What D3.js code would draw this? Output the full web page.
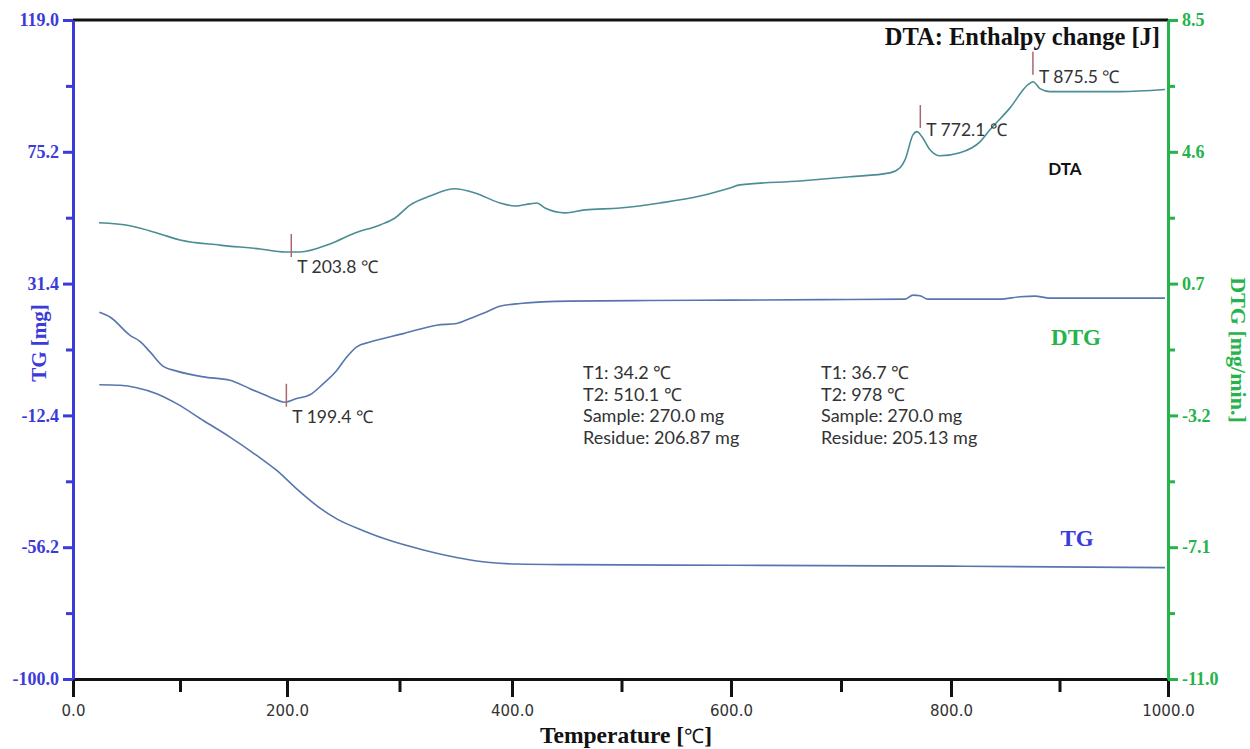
<!DOCTYPE html>
<html>
<head>
<meta charset="utf-8">
<script src="https://cdn.jsdelivr.net/npm/d3@7"></script>
<style>
  body { margin: 0; background: #fff; }
  svg { display: block; }
</style>
</head>
<body>
<div id="chart"></div>
<script>

// temperature [C] vs DTA signal (drawn on the TG value scale)
var dtaPoints = [
  [24.3, 51.6], [53.3, 50.6], [81.3, 47.9], [100, 45.9], [137.4, 44.2], [174.8, 42.9],
  [198.1, 41.9], [211.6, 41.9], [238.2, 44.6], [260.4, 48.2], [282.7, 50.9], [296, 53.2],
  [309.3, 57.5], [327.1, 60.5], [349.3, 62.9], [367.1, 61.5], [389.3, 58.2], [402.7, 57.2],
  [416.4, 57.9], [422.8, 58.2], [430.1, 56.5], [448.4, 54.9], [466.7, 55.9], [498.6, 56.5],
  [535.2, 58.2], [571.7, 60.5], [599.1, 63.2], [608.2, 64.2], [662.7, 65.5], [708.2, 66.9],
  [744.5, 68.2], [753.6, 69.9], [758.2, 72.5], [765.5, 80.9], [769.1, 81.9], [773.6, 80.2],
  [780.9, 75.9], [790, 73.9], [808.3, 74.9], [826.7, 78.5], [835.9, 82.5], [854.4, 89.8],
  [871, 97.5], [875.6, 98.5], [882, 96.2], [891.2, 95.2], [918.9, 95.2], [955.8, 95.2],
  [997.2, 95.9]
];

// temperature [C] vs DTG [mg/min]
var dtgPoints = [
  [24.6, -0.15], [34.6, -0.29], [53.3, -0.83], [62.6, -1.01], [72, -1.32], [84.4, -1.75],
  [97, -1.89], [121.8, -2.06], [146.7, -2.16], [165.4, -2.41], [184.1, -2.66], [198.1, -2.81],
  [208.6, -2.70], [220.4, -2.59], [232.3, -2.26], [244.2, -1.87], [253.1, -1.47], [262, -1.17],
  [273.8, -1.03], [303.4, -0.78], [333.1, -0.53], [350.8, -0.48], [362.7, -0.33], [374.5, -0.18],
  [389.3, 0.03], [407.3, 0.11], [453, 0.18], [526, 0.20], [600, 0.21], [708, 0.23],
  [758, 0.24], [765.5, 0.36], [771.8, 0.34], [779, 0.24], [845, 0.24], [863.6, 0.31],
  [877.4, 0.33], [891.2, 0.27], [937.3, 0.27], [997.2, 0.27]
];

// temperature [C] vs TG [mg]
var tgPoints = [
  [24.6, -2.2], [43.9, -2.4], [59.5, -3.2], [78.2, -5.2], [96.9, -8.5], [121.8, -14.1],
  [146.7, -19.6], [171.7, -25.7], [190.4, -30.7], [208.6, -36.8], [226.4, -42.4], [244.2, -46.8],
  [267.8, -50.7], [291.6, -54.0], [321.2, -57.1], [350.8, -59.6], [380.4, -61.3], [404.3, -61.8],
  [453, -62.0], [600, -62.2], [800, -62.5], [997.2, -63.0]
];

var xTicks = [0, 200, 400, 600, 800, 1000];
var xMinorTicks = [100, 300, 500, 700, 900];
var tgTicks = [119.0, 75.2, 31.4, -12.4, -56.2, -100.0];
var dtgTicks = [8.5, 4.6, 0.7, -3.2, -7.1, -11.0];

// peak markers: temperature, which curve, peak or valley
var peakTemps = [203.8, 199.4, 772.1, 875.5];
var peakCurves = ["dta", "dtg", "dta", "dta"];
var peakKinds = ["min", "min", "max", "max"];

var infoLeft = ["T1: 34.2 \u2103", "T2: 510.1 \u2103", "Sample: 270.0 mg", "Residue: 206.87 mg"];
var infoRight = ["T1: 36.7 \u2103", "T2: 978 \u2103", "Sample: 270.0 mg", "Residue: 205.13 mg"];

var W = 1250, H = 749;
var plotLeft = 73, plotRight = 1168, plotTop = 20, plotBottom = 679;

var blue = "#3b3bdc";
var green = "#25b34b";
var dtaColor = "#4a8d95";
var tgColor = "#5876ae";
var markColor = "#a9666f";
var serif = "'Liberation Serif', 'Times New Roman', serif";
var sans = "Lato, 'Open Sans', sans-serif";

// plain hyphen instead of d3's unicode minus, like the original
var fmt1 = function (d) { return d.toFixed(1); };

var svg = d3.select("#chart").append("svg")
    .attr("width", W)
    .attr("height", H);

// the scanned original is slightly uneven, so the x scale is piecewise
var x = d3.scaleLinear()
    .domain(xTicks)
    .range([plotLeft, 287, 512, 731, 951, plotRight]);
var yTG = d3.scaleLinear().domain([-100, 119]).range([plotBottom, plotTop]);
var yDTG = d3.scaleLinear().domain([-11, 8.5]).range([plotBottom, plotTop]);

var curves = {
    dta: { points: dtaPoints, y: yTG },
    dtg: { points: dtgPoints, y: yDTG },
    tg: { points: tgPoints, y: yTG }
};

function valueAt(points, t) {
    var i = d3.bisector(function (d) { return d[0]; }).left(points, t);
    if (i <= 0) return points[0][1];
    if (i >= points.length) return points[points.length - 1][1];
    var a = points[i - 1], b = points[i];
    return a[1] + (b[1] - a[1]) * (t - a[0]) / (b[0] - a[0]);
}

// top frame line
svg.append("line")
    .attr("x1", plotLeft).attr("x2", plotRight)
    .attr("y1", plotTop).attr("y2", plotTop)
    .attr("stroke", "#111").attr("stroke-width", 3);

// curves
Object.keys(curves).forEach(function (k) {
    var c = curves[k];
    var line = d3.line()
        .x(function (d) { return x(d[0]); })
        .y(function (d) { return c.y(d[1]); })
        .curve(d3.curveMonotoneX);
    svg.append("path")
        .datum(c.points)
        .attr("fill", "none")
        .attr("stroke", k === "dta" ? dtaColor : tgColor)
        .attr("stroke-width", 1.6)
        .attr("d", line);
});

// bottom axis
var gx = svg.append("g")
    .attr("transform", "translate(0," + plotBottom + ")")
    .call(d3.axisBottom(x).tickValues(xTicks).tickSize(18).tickSizeOuter(0).tickPadding(8)
        .tickFormat(fmt1));
gx.select(".domain").attr("stroke", "#111").attr("stroke-width", 3);
gx.selectAll(".tick line").attr("stroke", "#111").attr("stroke-width", 3);
gx.selectAll(".tick text")
    .attr("fill", "#333")
    .style("font-family", "'DejaVu Sans', Verdana, sans-serif")
    .style("font-size", "15px");

var gxMinor = svg.append("g")
    .attr("transform", "translate(0," + plotBottom + ")")
    .call(d3.axisBottom(x).tickValues(xMinorTicks).tickSize(13).tickSizeOuter(0).tickFormat(""));
gxMinor.select(".domain").remove();
gxMinor.selectAll(".tick line").attr("stroke", "#111").attr("stroke-width", 3);

// left TG axis
var gl = svg.append("g")
    .attr("transform", "translate(" + plotLeft + ",0)")
    .call(d3.axisLeft(yTG).tickValues(tgTicks).tickSize(10).tickSizeOuter(0).tickPadding(4)
        .tickFormat(fmt1));
gl.select(".domain").attr("stroke", blue).attr("stroke-width", 3);
gl.selectAll(".tick line").attr("stroke", blue).attr("stroke-width", 3);
gl.selectAll(".tick text")
    .attr("fill", blue)
    .style("font-family", serif)
    .style("font-weight", "bold")
    .style("font-size", "18px");

var glMinor = svg.append("g")
    .attr("transform", "translate(" + plotLeft + ",0)")
    .call(d3.axisLeft(yTG).tickValues(d3.pairs(tgTicks).map(function (p) { return (p[0] + p[1]) / 2; }))
        .tickSize(7).tickSizeOuter(0).tickFormat(""));
glMinor.select(".domain").remove();
glMinor.selectAll(".tick line").attr("stroke", blue).attr("stroke-width", 3);

// right DTG axis
var gr = svg.append("g")
    .attr("transform", "translate(" + plotRight + ",0)")
    .call(d3.axisRight(yDTG).tickValues(dtgTicks).tickSize(10).tickSizeOuter(0).tickPadding(4)
        .tickFormat(fmt1));
gr.select(".domain").attr("stroke", green).attr("stroke-width", 3);
gr.selectAll(".tick line").attr("stroke", green).attr("stroke-width", 3);
gr.selectAll(".tick text")
    .attr("fill", green)
    .style("font-family", serif)
    .style("font-weight", "bold")
    .style("font-size", "18px");

var grMinor = svg.append("g")
    .attr("transform", "translate(" + plotRight + ",0)")
    .call(d3.axisRight(yDTG).tickValues(d3.pairs(dtgTicks).map(function (p) { return (p[0] + p[1]) / 2; }))
        .tickSize(7).tickSizeOuter(0).tickFormat(""));
grMinor.select(".domain").remove();
grMinor.selectAll(".tick line").attr("stroke", green).attr("stroke-width", 3);

// axis titles
svg.append("text")
    .attr("transform", "translate(46,343) rotate(-90)")
    .attr("text-anchor", "middle")
    .attr("fill", blue)
    .style("font-family", serif).style("font-weight", "bold").style("font-size", "21px")
    .text("TG [mg]");

svg.append("text")
    .attr("transform", "translate(1231,350) rotate(90)")
    .attr("text-anchor", "middle")
    .attr("fill", green)
    .style("font-family", serif).style("font-weight", "bold").style("font-size", "22px")
    .text("DTG [mg/min.]");

var xt = svg.append("text")
    .attr("x", 626).attr("y", 743)
    .attr("text-anchor", "middle")
    .attr("fill", "#111")
    .style("font-family", serif).style("font-weight", "bold").style("font-size", "23.5px");
xt.append("tspan").text("Temperature [");
xt.append("tspan").style("font-weight", "normal").style("font-size", "20px").text("\u2103");
xt.append("tspan").text("]");

// in-plot labels
svg.append("text")
    .attr("x", 1160).attr("y", 45)
    .attr("text-anchor", "end")
    .attr("fill", "#111")
    .style("font-family", serif).style("font-weight", "bold").style("font-size", "24.5px")
    .text("DTA: Enthalpy change [J]");

svg.append("text")
    .attr("x", 1065).attr("y", 175)
    .attr("text-anchor", "middle")
    .attr("fill", "#111")
    .style("font-family", sans).style("font-weight", "bold").style("font-size", "17px")
    .text("DTA");

svg.append("text")
    .attr("x", 1076).attr("y", 345)
    .attr("text-anchor", "middle")
    .attr("fill", green)
    .style("font-family", serif).style("font-weight", "bold").style("font-size", "23px")
    .text("DTG");

svg.append("text")
    .attr("x", 1077).attr("y", 546)
    .attr("text-anchor", "middle")
    .attr("fill", blue)
    .style("font-family", serif).style("font-weight", "bold").style("font-size", "23px")
    .text("TG");

// peak markers
peakTemps.forEach(function (t, i) {
    var c = curves[peakCurves[i]];
    var px = x(t);
    var py = c.y(valueAt(c.points, t));
    var y1, y2, ty;
    if (peakKinds[i] === "min") {
        y1 = py - 18; y2 = py + 5; ty = y2 + 16;
    } else {
        y1 = py - 30; y2 = py - 7; ty = y2 + 8;
    }
    svg.append("line")
        .attr("x1", px).attr("x2", px)
        .attr("y1", y1).attr("y2", y2)
        .attr("stroke", markColor).attr("stroke-width", 1.5);
    svg.append("text")
        .attr("x", px + 6).attr("y", ty)
        .attr("fill", "#333")
        .style("font-family", sans).style("font-size", "17.5px")
        .text("T " + t.toFixed(1) + " \u2103");
});

// measurement summary blocks
function infoBlock(lines, x0) {
    svg.append("g").selectAll("text")
        .data(lines)
        .enter().append("text")
        .attr("x", x0)
        .attr("y", function (d, i) { return 379 + i * 21.5; })
        .attr("fill", "#333")
        .style("font-family", sans)
        .style("font-size", "18px")
        .text(function (d) { return d; });
}
infoBlock(infoLeft, 583);
infoBlock(infoRight, 821);

</script>
</body>
</html>
